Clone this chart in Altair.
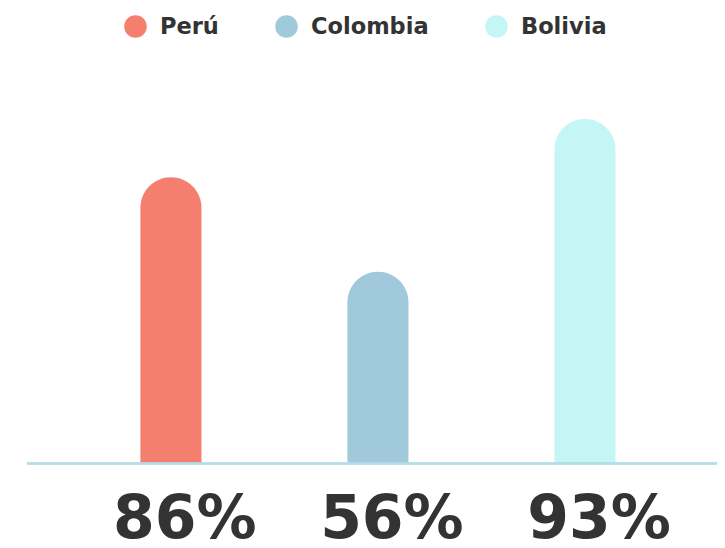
import altair as alt
import pandas as pd

countries = ["Perú", "Colombia", "Bolivia"]
bar_heights = [77.3, 51.8, 93.0]
labels = ["86%", "56%", "93%"]
colors = ["#f47f6e", "#a0c9db", "#c5f6f6"]

df = pd.DataFrame({"country": countries, "height": bar_heights, "label": labels})

W, H = 709, 532
k = 3.704
zero_px = 455.5
y_lo = -(H - zero_px) / k
y_hi = zero_px / k

x_enc = alt.X("country:N", sort=countries, axis=None,
              scale=alt.Scale(domain=countries, paddingInner=0.705,
                              paddingOuter=0.565, align=0.566))
y_scale = alt.Scale(domain=[y_lo, y_hi], nice=False, zero=False)

bars = alt.Chart(df).mark_bar(cornerRadiusTopLeft=30.5, cornerRadiusTopRight=30.5).encode(
    x=x_enc,
    y=alt.Y("height:Q", scale=y_scale, axis=None),
    y2=alt.datum(0),
    color=alt.Color("country:N", sort=countries,
                    scale=alt.Scale(domain=countries, range=colors),
                    legend=alt.Legend(
                        title=None, orient="none", legendX=116, legendY=7,
                        direction="horizontal", symbolType="circle",
                        symbolSize=506, symbolStrokeWidth=0, symbolOpacity=1,
                        labelFont="DejaVu Sans", labelFontSize=22.5,
                        labelFontWeight="bold", labelColor="#333333",
                        labelOffset=13, columnPadding=56)),
)

rule = alt.Chart(df).mark_rule(color="#b5dbe8", strokeWidth=2).encode(
    y=alt.datum(0), x=alt.value(19), x2=alt.value(W)
)

text = alt.Chart(df).mark_text(
    font="DejaVu Sans", fontSize=60, fontWeight="bold", color="#333333",
    baseline="alphabetic", align="center", dx=14
).encode(
    x=x_enc,
    y=alt.datum(y_lo + 2 / k),
    text="label:N",
)

chart = alt.layer(bars, rule, text).properties(
    width=W, height=H, padding=0, autosize=alt.AutoSizeParams(type="none")
).configure_view(stroke=None)

chart.save("out.html", embed_options={"renderer": "svg", "actions": False})
